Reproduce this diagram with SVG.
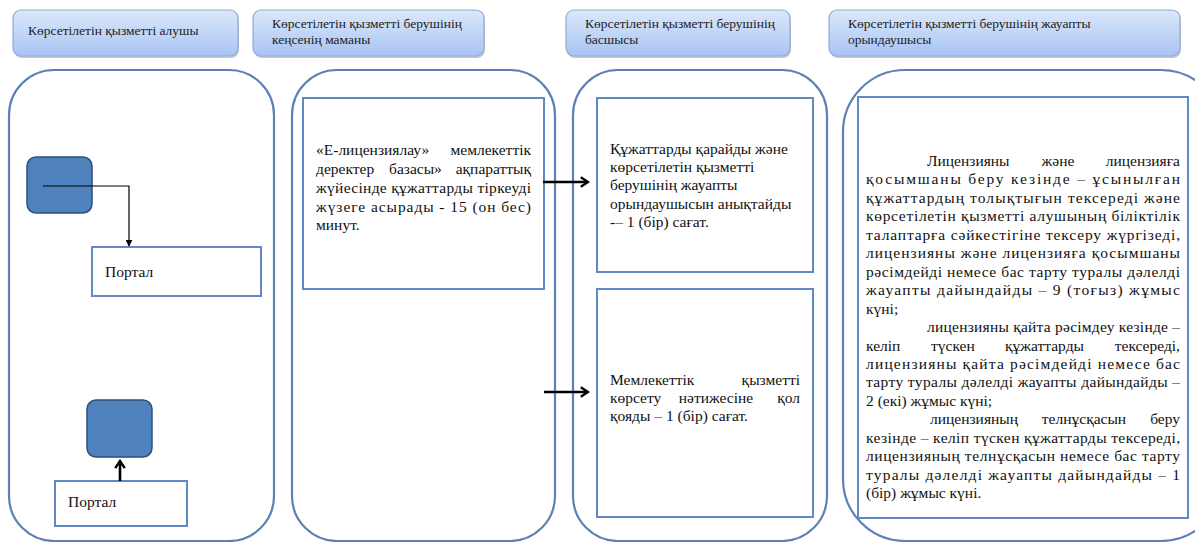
<svg xmlns="http://www.w3.org/2000/svg" width="1195" height="542" viewBox="0 0 1195 542">
<defs>
<linearGradient id="hg" x1="0" y1="0" x2="0" y2="1">
<stop offset="0" stop-color="#dce8fb"/>
<stop offset="1" stop-color="#a7c4f3"/>
</linearGradient>
<marker id="tri" viewBox="0 0 10 10" refX="9" refY="5" markerWidth="7" markerHeight="7" orient="auto" markerUnits="userSpaceOnUse">
<path d="M0,0 L10,5 L0,10 Z" fill="#000"/>
</marker>
<marker id="chev" viewBox="0 0 10 10" refX="8" refY="5" markerWidth="12" markerHeight="12" orient="auto" markerUnits="userSpaceOnUse">
<path d="M2,1 L8,5 L2,9" fill="none" stroke="#000" stroke-width="2"/>
</marker>
</defs>
<style>
.hdr{fill:url(#hg);stroke:#8fabd6;stroke-width:1.2}
.hsh{fill:#c9c9c9}
.lane{fill:#fff;stroke:#5d80b6;stroke-width:2.2}
.box{fill:#fff;stroke:#5f8ac6;stroke-width:2}
.sq{fill:#4f81bd;stroke:#2f4f7a;stroke-width:1.5}
text{font-family:'Liberation Serif','DejaVu Serif',serif;fill:#111}
.ht{font-size:13.5px;fill:#222}
.t{font-size:15.5px}
.e{text-anchor:end}
.m{text-anchor:middle}
.thin{fill:none;stroke:#000;stroke-width:1.2}
.thick{fill:none;stroke:#000;stroke-width:2.6}
</style>
<rect width="1195" height="542" fill="#fff"/>

<g id="header1">
<rect class="hsh" x="14" y="12" width="225" height="46" rx="8"/>
<rect class="hdr" x="13" y="10" width="225" height="46" rx="8"/>
<text class="ht" x="28" y="35">Көрсетілетін қызметті  алушы</text>
</g>
<g id="header2">
<rect class="hsh" x="254" y="12" width="231" height="46" rx="8"/>
<rect class="hdr" x="253" y="10" width="231" height="46" rx="8"/>
<text class="ht" x="272" y="28">Көрсетілетін  қызметті берушінің</text>
<text class="ht" x="272" y="44">кеңсенің маманы</text>
</g>
<g id="header3">
<rect class="hsh" x="567" y="12" width="224" height="46" rx="8"/>
<rect class="hdr" x="566" y="10" width="224" height="46" rx="8"/>
<text class="ht" x="585" y="28">Көрсетілетін  қызметті берушінің</text>
<text class="ht" x="585" y="44">басшысы</text>
</g>
<g id="header4">
<rect class="hsh" x="830" y="12" width="351" height="46" rx="8"/>
<rect class="hdr" x="829" y="10" width="351" height="46" rx="8"/>
<text class="ht" x="848" y="28">Көрсетілетін  қызметті берушінің  жауапты</text>
<text class="ht" x="848" y="44">орындаушысы</text>
</g>

<g id="lane1">
<rect class="lane" x="9" y="70" width="265" height="471" rx="45"/>
</g>
<g id="lane2">
<rect class="lane" x="292" y="70" width="263" height="471" rx="45"/>
</g>
<g id="lane3">
<rect class="lane" x="573" y="70" width="254" height="471" rx="45"/>
</g>
<g id="lane4">
<rect class="lane" x="843" y="70" width="380" height="471" rx="62"/>
</g>

<g id="start1">
<rect class="sq" x="27" y="157" width="65" height="56" rx="9"/>
</g>
<g id="portal1">
<rect class="box" x="92" y="247" width="169" height="49"/>
<text class="t" x="105" y="277">Портал</text>
</g>
<g id="end1">
<rect class="sq" x="87" y="400" width="65" height="57" rx="9"/>
</g>
<g id="portal2">
<rect class="box" x="55" y="481" width="132" height="45"/>
<text class="t" x="68" y="507">Портал</text>
</g>

<g id="step1">
<rect class="box" x="303" y="98" width="241" height="191"/>
<text class="t" x="316" y="155">«Е-лицензиялау»</text>
<text class="t e" x="531" y="155">мемлекеттік</text>
<text class="t" x="316" y="174">деректер</text>
<text class="t" x="389" y="174">базасы»</text>
<text class="t e" x="531" y="174">ақпараттық</text>
<text class="t" x="316" y="193" textLength="215" lengthAdjust="spacing">жүйесінде құжаттарды тіркеуді</text>
<text class="t" x="316" y="212" textLength="215" lengthAdjust="spacing">жүзеге асырады - 15 (он бес)</text>
<text class="t" x="316" y="230">минут.</text>
</g>

<g id="step2">
<rect class="box" x="597" y="98" width="216" height="174"/>
<text class="t" x="610" y="154">Құжаттарды қарайды және</text>
<text class="t" x="610" y="172">көрсетілетін қызметті</text>
<text class="t" x="610" y="190">берушінің жауапты</text>
<text class="t" x="610" y="209">орындаушысын анықтайды</text>
<text class="t" x="610" y="227">-– 1 (бір)  сағат.</text>
</g>

<g id="step3">
<rect class="box" x="597" y="289" width="216" height="228"/>
<text class="t" x="610" y="385">Мемлекеттік</text>
<text class="t e" x="800" y="385">қызметті</text>
<text class="t" x="610" y="403">көрсету</text>
<text class="t m" x="716" y="403">нәтижесіне</text>
<text class="t e" x="800" y="403">қол</text>
<text class="t" x="610" y="421">қояды – 1 (бір) сағат.</text>
</g>

<g id="step4">
<rect class="box" x="858" y="97" width="330" height="421"/>
<text class="t" x="927" y="166">Лицензияны</text>
<text class="t m" x="1058" y="166">және</text>
<text class="t e" x="1180" y="166">лицензияға</text>
<text class="t" x="866" y="184.4" textLength="314" lengthAdjust="spacing">қосымшаны беру кезінде – ұсынылған</text>
<text class="t" x="866" y="202.9" textLength="314" lengthAdjust="spacing">құжаттардың толықтығын тексереді және</text>
<text class="t" x="866" y="221.3" textLength="314" lengthAdjust="spacing">көрсетілетін қызметті алушының біліктілік</text>
<text class="t" x="866" y="239.8" textLength="314" lengthAdjust="spacing">талаптарға сәйкестігіне тексеру жүргізеді,</text>
<text class="t" x="866" y="258.2" textLength="314" lengthAdjust="spacing">лицензияны және лицензияға қосымшаны</text>
<text class="t" x="866" y="276.7" textLength="314" lengthAdjust="spacing">рәсімдейді немесе бас тарту туралы дәлелді</text>
<text class="t" x="866" y="295.1" textLength="314" lengthAdjust="spacing">жауапты дайындайды – 9 (тоғыз) жұмыс</text>
<text class="t" x="866" y="313.6">күні;</text>
<text class="t" x="927" y="332" textLength="253" lengthAdjust="spacing">лицензияны қайта рәсімдеу кезінде –</text>
<text class="t" x="866" y="350.5">келіп</text>
<text class="t" x="931" y="350.5">түскен</text>
<text class="t" x="1005" y="350.5">құжаттарды</text>
<text class="t e" x="1180" y="350.5">тексереді,</text>
<text class="t" x="866" y="368.9" textLength="314" lengthAdjust="spacing">лицензияны қайта рәсімдейді немесе бас</text>
<text class="t" x="866" y="387.4" textLength="314" lengthAdjust="spacing">тарту туралы дәлелді жауапты дайындайды –</text>
<text class="t" x="866" y="405.8">2 (екі) жұмыс күні;</text>
<text class="t" x="930" y="424.3">лицензияның</text>
<text class="t m" x="1084" y="424.3">телнұсқасын</text>
<text class="t e" x="1180" y="424.3">беру</text>
<text class="t" x="866" y="442.7" textLength="314" lengthAdjust="spacing">кезінде – келіп түскен құжаттарды тексереді,</text>
<text class="t" x="866" y="461.2" textLength="314" lengthAdjust="spacing">лицензияның телнұсқасын немесе бас тарту</text>
<text class="t" x="866" y="479.6" textLength="314" lengthAdjust="spacing">туралы дәлелді жауапты дайындайды – 1</text>
<text class="t" x="866" y="498">(бір) жұмыс күні.</text>
</g>

<g id="connectors">
<polyline class="thin" points="43,186 129,186 129,246" marker-end="url(#tri)"/>
<line class="thick" x1="120" y1="481" x2="120" y2="461" marker-end="url(#chev)"/>
<line class="thick" x1="543" y1="182" x2="588" y2="182" marker-end="url(#chev)"/>
<line class="thick" x1="544" y1="392" x2="588" y2="392" marker-end="url(#chev)"/>
</g>
</svg>
